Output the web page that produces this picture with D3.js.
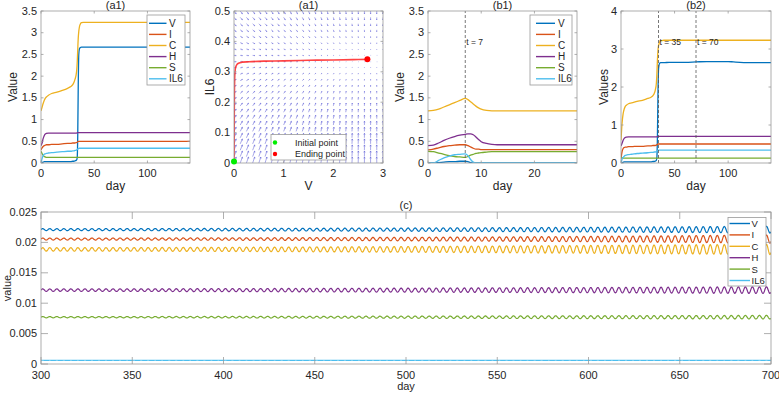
<!DOCTYPE html>
<html><head><meta charset="utf-8">
<script src="https://cdn.jsdelivr.net/npm/d3@7"></script>
<style>
body{margin:0;background:#fff}
text{font-family:"Liberation Sans",Arial,Helvetica,sans-serif;fill:#262626}
</style>
</head><body><svg id="chart" width="779" height="394"></svg>
<script>
// ---------- data ----------
const seriesNames = ["V","I","C","H","S","IL6"];
const seriesColors = ["#0072BD","#D95319","#EDB120","#7E2F8E","#77AC30","#4DBEEE"];

// (a1) time course, days 0..140
const tA = [0,1,2,3,4,5,7,10,15,20,25,28,30,31,32,33,33.5,34,34.5,35,35.5,36,37,38,40,45,60,70,80,100,105,120,140];
const a1V   = [0,0.01,0.02,0.03,0.03,0.03,0.03,0.03,0.03,0.03,0.03,0.03,0.04,0.04,0.05,0.06,0.07,0.12,0.6,1.8,2.5,2.62,2.66,2.67,2.67,2.67,2.67,2.67,2.67,2.67,2.67,2.67,2.67];
const a1I   = [0.3,0.35,0.38,0.4,0.41,0.42,0.42,0.43,0.43,0.44,0.45,0.45,0.46,0.46,0.46,0.47,0.47,0.48,0.49,0.5,0.5,0.5,0.5,0.5,0.5,0.5,0.5,0.5,0.5,0.5,0.5,0.5,0.5];
const a1C   = [1.2,1.28,1.37,1.44,1.49,1.52,1.56,1.6,1.63,1.67,1.72,1.76,1.81,1.86,1.93,2.03,2.12,2.3,2.6,2.88,3.03,3.12,3.2,3.23,3.24,3.24,3.24,3.24,3.24,3.24,3.24,3.24,3.24];
const a1H   = [0.4,0.46,0.56,0.63,0.67,0.68,0.69,0.69,0.69,0.69,0.69,0.69,0.69,0.69,0.69,0.69,0.69,0.7,0.7,0.7,0.7,0.7,0.7,0.7,0.7,0.7,0.7,0.7,0.7,0.7,0.7,0.7,0.7];
const a1S   = [0.27,0.22,0.18,0.15,0.14,0.13,0.13,0.13,0.13,0.13,0.13,0.13,0.13,0.13,0.13,0.13,0.13,0.13,0.13,0.13,0.13,0.13,0.13,0.13,0.13,0.13,0.13,0.13,0.13,0.13,0.13,0.13,0.13];
const a1IL6 = [0,0.1,0.17,0.2,0.21,0.22,0.23,0.24,0.25,0.26,0.27,0.27,0.28,0.28,0.29,0.29,0.3,0.31,0.32,0.33,0.335,0.34,0.34,0.34,0.34,0.34,0.34,0.34,0.34,0.34,0.34,0.34,0.34];

// (b2) time course, days 0..140
const b2V   = [0,0.01,0.02,0.03,0.03,0.03,0.03,0.03,0.03,0.03,0.03,0.03,0.04,0.04,0.05,0.07,0.15,0.7,1.8,2.45,2.58,2.62,2.64,2.64,2.64,2.65,2.65,2.66,2.67,2.67,2.66,2.64,2.64];
const b2I   = [0.1,0.3,0.38,0.41,0.42,0.42,0.43,0.43,0.44,0.44,0.45,0.45,0.46,0.46,0.46,0.47,0.48,0.49,0.5,0.5,0.5,0.5,0.5,0.5,0.5,0.5,0.5,0.5,0.5,0.5,0.5,0.5,0.5];
const b2C   = [0.6,1.05,1.3,1.42,1.49,1.52,1.56,1.58,1.62,1.65,1.7,1.73,1.78,1.83,1.92,2.1,2.35,2.7,2.95,3.08,3.14,3.18,3.21,3.22,3.23,3.23,3.23,3.23,3.23,3.23,3.23,3.23,3.23];
const b2H   = [0.45,0.52,0.6,0.65,0.67,0.68,0.69,0.69,0.69,0.69,0.69,0.69,0.69,0.69,0.69,0.69,0.69,0.7,0.7,0.7,0.7,0.7,0.7,0.7,0.7,0.7,0.7,0.7,0.7,0.7,0.7,0.7,0.7];
const b2S   = [0.15,0.14,0.13,0.13,0.13,0.13,0.13,0.13,0.13,0.13,0.13,0.13,0.13,0.13,0.13,0.13,0.13,0.13,0.13,0.13,0.13,0.13,0.13,0.13,0.13,0.13,0.13,0.13,0.13,0.13,0.13,0.13,0.13];
const b2IL6 = [0,0.1,0.15,0.18,0.2,0.21,0.22,0.23,0.25,0.26,0.27,0.28,0.28,0.29,0.29,0.3,0.31,0.32,0.33,0.335,0.34,0.34,0.34,0.34,0.34,0.34,0.34,0.34,0.34,0.34,0.34,0.34,0.34];

// (b1) time course, days 0..28
const tB = [0,1,2,3,4,5,6,7,7.5,8,8.5,9,9.5,10,11,12,13,14,16,20,24,28];
const b1V   = [0,0,0.01,0.02,0.03,0.03,0.04,0.04,0.03,0.01,0,0,0,0,0,0,0,0,0,0,0,0];
const b1I   = [0.3,0.32,0.35,0.38,0.4,0.41,0.42,0.42,0.4,0.37,0.34,0.32,0.32,0.31,0.31,0.31,0.31,0.31,0.31,0.31,0.31,0.31];
const b1C   = [1.2,1.21,1.24,1.29,1.34,1.39,1.44,1.49,1.46,1.41,1.36,1.31,1.27,1.24,1.21,1.2,1.2,1.2,1.2,1.2,1.2,1.2];
const b1H   = [0.4,0.41,0.46,0.52,0.57,0.61,0.64,0.66,0.67,0.67,0.65,0.6,0.54,0.49,0.45,0.43,0.42,0.42,0.42,0.42,0.42,0.42];
const b1S   = [0.27,0.26,0.23,0.2,0.17,0.15,0.14,0.13,0.15,0.18,0.2,0.22,0.23,0.24,0.25,0.26,0.26,0.26,0.26,0.26,0.26,0.26];
const b1IL6 = [0,0,0.06,0.12,0.16,0.19,0.2,0.21,0.17,0.08,0.02,0,0,0,0,0,0,0,0,0,0,0];

// phase portrait (V vs IL6)
const trajV   = [0,0.002,0.005,0.01,0.02,0.04,0.07,0.12,0.3,0.6,1,1.5,2,2.4,2.686];
const trajIL6 = [0.005,0.05,0.15,0.25,0.3,0.318,0.326,0.33,0.333,0.335,0.336,0.338,0.339,0.34,0.341];
const quiverV   = [0,0.125,0.25,0.375,0.5,0.625,0.75,0.875,1,1.125,1.25,1.375,1.5,1.625,1.75,1.875,2,2.125,2.25,2.375,2.5,2.625,2.75,2.875,3];
const quiverIL6 = [0,0.021,0.042,0.063,0.083,0.104,0.125,0.146,0.167,0.188,0.208,0.229,0.25,0.271,0.292,0.313,0.333,0.354,0.375,0.396,0.417,0.438,0.458,0.479,0.5];
const quiverDx  = [2.2,2.2,2.1,2.1,2.0,1.9,1.8,1.7,1.6,1.5,1.4,1.3,1.2,1.0,0.9,0.8,0.6,0.5,0.4,0.3,0.2,0.1,0,-0.1,-0.2];
const quiverDy  = [6.0,5.6,5.3,4.9,4.5,4.2,3.8,3.4,3.1,2.7,2.3,2.0,1.6,1.2,0.9,0.5,0.1,-0.2,-0.6,-1.0,-1.3,-1.7,-2.0,-2.4,-2.8];

// (c) long-term oscillation, days 300..700
const cDays  = [300,350,400,450,500,550,600,650,700];
const cMean  = [0.0221,0.02055,0.01885,0.01215,0.0077,0.0006];
const cAmpV   = [0.00016,0.00018,0.0002,0.00023,0.00027,0.00032,0.00039,0.00047,0.00056];
const cAmpI   = [0.00016,0.00018,0.0002,0.00024,0.00029,0.00035,0.00044,0.00055,0.00068];
const cAmpC   = [0.00028,0.0003,0.00034,0.0004,0.00047,0.00055,0.00064,0.00074,0.00084];
const cAmpH   = [0.0002,0.00022,0.00025,0.00029,0.00033,0.00038,0.00043,0.00049,0.00055];
const cAmpS   = [0.0001,0.00011,0.00013,0.00015,0.00018,0.00021,0.00024,0.00027,0.0003];
const cAmpIL6 = [0.00002,0.00002,0.00002,0.00002,0.00002,0.00002,0.00002,0.00002,0.00002];
const cPeriod = 3.85;

const ticksA = {x:[0,50,100], y:[0,0.5,1,1.5,2,2.5,3,3.5]};
const ticksB1 = {x:[0,10,20], y:[0,0.5,1,1.5,2,2.5,3,3.5]};
const ticksB2 = {x:[0,50,100], y:[0,1,2,3,4]};
const ticksP = {x:[0,1,2,3], y:[0,0.1,0.2,0.3,0.4,0.5]};
const ticksC = {x:[300,350,400,450,500,550,600,650,700], y:[0,0.005,0.01,0.015,0.02,0.025]};

// ---------- drawing ----------
const svg = d3.select("#chart");
const AX = "#9a9a9a";
let clipId = 0;

function panel(box, xDom, yDom, ticks, tickLen, opts) {
  const x = d3.scaleLinear().domain(xDom).range([box.x0, box.x1]);
  const y = d3.scaleLinear().domain(yDom).range([box.y1, box.y0]);
  const g = svg.append("g");
  const id = "clip" + (clipId++);
  g.append("clipPath").attr("id", id).append("rect")
    .attr("x", box.x0).attr("y", box.y0).attr("width", box.x1 - box.x0).attr("height", box.y1 - box.y0);
  const plot = g.append("g").attr("clip-path", `url(#${id})`);
  const frame = svg.append("g");
  const fs = opts.fs || 11;
  const xtY = opts.xtickY || 13.5;
  ticks.x.forEach(t => {
    frame.append("line").attr("x1", x(t)).attr("x2", x(t)).attr("y1", box.y1).attr("y2", box.y1 - tickLen).attr("stroke", AX).attr("stroke-width", 0.8);
    frame.append("line").attr("x1", x(t)).attr("x2", x(t)).attr("y1", box.y0).attr("y2", box.y0 + tickLen).attr("stroke", AX).attr("stroke-width", 0.8);
    frame.append("text").attr("x", x(t)).attr("y", box.y1 + xtY).attr("text-anchor", "middle").attr("font-size", fs).text(t);
  });
  ticks.y.forEach(t => {
    frame.append("line").attr("x1", box.x0).attr("x2", box.x0 + tickLen).attr("y1", y(t)).attr("y2", y(t)).attr("stroke", AX).attr("stroke-width", 0.8);
    frame.append("line").attr("x1", box.x1).attr("x2", box.x1 - tickLen).attr("y1", y(t)).attr("y2", y(t)).attr("stroke", AX).attr("stroke-width", 0.8);
    frame.append("text").attr("x", box.x0 - 4).attr("y", y(t) + 3.5).attr("text-anchor", "end").attr("font-size", fs).text(t);
  });
  frame.append("rect").attr("x", box.x0).attr("y", box.y0).attr("width", box.x1 - box.x0).attr("height", box.y1 - box.y0)
    .attr("fill", "none").attr("stroke", AX).attr("stroke-width", 0.8);
  frame.append("text").attr("x", (box.x0 + box.x1) / 2).attr("y", opts.titleY).attr("text-anchor", "middle").attr("font-size", fs).text(opts.title);
  frame.append("text").attr("x", (box.x0 + box.x1) / 2).attr("y", opts.xlabY).attr("text-anchor", "middle").attr("font-size", opts.labFs || fs + 1).text(opts.xlab);
  frame.append("text").attr("transform", `translate(${opts.ylabX},${(box.y0 + box.y1) / 2}) rotate(-90)`)
    .attr("text-anchor", "middle").attr("font-size", opts.labFs || fs + 1).text(opts.ylab);
  return {x, y, plot, frame};
}

function legend(box, lx1, lx2, tx, y0, step, fs) {
  const g = svg.append("g");
  g.append("rect").attr("x", box.x).attr("y", box.y).attr("width", box.w).attr("height", box.h)
    .attr("fill", "#fff").attr("stroke", AX).attr("stroke-width", 0.8);
  seriesNames.forEach((n, i) => {
    const yy = y0 + i * step;
    g.append("line").attr("x1", lx1).attr("x2", lx2).attr("y1", yy).attr("y2", yy)
      .attr("stroke", seriesColors[i]).attr("stroke-width", 1.4);
    g.append("text").attr("x", tx).attr("y", yy + 3.5).attr("font-size", fs).text(n);
  });
}

function drawSeries(P, t, arrays) {
  const line = d3.line().x(d => P.x(d[0])).y(d => P.y(d[1])).curve(d3.curveMonotoneX);
  arrays.forEach((arr, i) => {
    P.plot.append("path").datum(arr.map((v, k) => [t[k], v]))
      .attr("d", line).attr("fill", "none").attr("stroke", seriesColors[i]).attr("stroke-width", 1.3);
  });
}

function vline(P, xv, label) {
  const [y0, y1] = P.y.range();
  P.plot.append("line").attr("x1", P.x(xv)).attr("x2", P.x(xv)).attr("y1", y0).attr("y2", y1)
    .attr("stroke", "#555").attr("stroke-width", 0.8).attr("stroke-dasharray", "3,2");
  P.frame.append("text").attr("x", P.x(xv) + 1).attr("y", 45).attr("font-size", 8.5).text(label);
}

// (a1)
const PA = panel({x0:41, x1:190, y0:11, y1:163}, [0,140], [0,3.5], ticksA, 2.5,
  {title:"(a1)", titleY:8.5, xlab:"day", xlabY:189.5, ylab:"Value", ylabX:17});
drawSeries(PA, tA, [a1V, a1I, a1C, a1H, a1S, a1IL6]);
legend({x:147, y:15, w:38, h:70}, 149, 166.5, 169, 23.3, 11.1, 10);

// phase portrait
const PP = panel({x0:234, x1:383, y0:11, y1:163}, [0,3], [0,0.5], ticksP, 2.5,
  {title:"(a1)", titleY:8.5, xlab:"V", xlabY:189.5, ylab:"IL6", ylabX:214});
const qg = PP.plot.append("g").attr("stroke", "#6464d8").attr("stroke-opacity", 0.7).attr("stroke-width", 0.8).attr("fill", "none");
quiverIL6.forEach((iv, r) => {
  quiverV.forEach((vv, c) => {
    const x0 = PP.x(vv), y0 = PP.y(iv);
    const dx = quiverDx[c], dy = -quiverDy[r];
    const len = Math.hypot(dx, dy);
    if (len < 0.3) { qg.append("line").attr("x1", x0).attr("x2", x0 + 0.5).attr("y1", y0).attr("y2", y0); return; }
    const x1 = x0 + dx, y1 = y0 + dy;
    qg.append("line").attr("x1", x0).attr("y1", y0).attr("x2", x1).attr("y2", y1);
    const ang = Math.atan2(dy, dx), h = Math.min(1.6, len * 0.35);
    [0.45, -0.45].forEach(a => {
      qg.append("line").attr("x1", x1).attr("y1", y1)
        .attr("x2", x1 - h * Math.cos(ang + a)).attr("y2", y1 - h * Math.sin(ang + a));
    });
  });
});
PP.plot.append("path").datum(trajV.map((v, i) => [v, trajIL6[i]]))
  .attr("d", d3.line().x(d => PP.x(d[0])).y(d => PP.y(d[1])).curve(d3.curveCatmullRom.alpha(0.5)))
  .attr("fill", "none").attr("stroke", "#f22").attr("stroke-opacity", 0.85).attr("stroke-width", 1.6);
svg.append("circle").attr("cx", PP.x(trajV[0])).attr("cy", PP.y(trajIL6[0])).attr("r", 3).attr("fill", "#00ee00");
svg.append("circle").attr("cx", PP.x(trajV[trajV.length - 1])).attr("cy", PP.y(trajIL6[trajIL6.length - 1])).attr("r", 3).attr("fill", "#ff0000");
{
  const g = svg.append("g");
  g.append("rect").attr("x", 271).attr("y", 134.5).attr("width", 75).attr("height", 25.5)
    .attr("fill", "#fff").attr("stroke", AX).attr("stroke-width", 0.8);
  g.append("circle").attr("cx", 275).attr("cy", 142.5).attr("r", 2.2).attr("fill", "#00ee00");
  g.append("circle").attr("cx", 275).attr("cy", 154).attr("r", 2.2).attr("fill", "#ff0000");
  g.append("text").attr("x", 295).attr("y", 145.8).attr("font-size", 9).text("Initial point");
  g.append("text").attr("x", 295).attr("y", 157.3).attr("font-size", 9).text("Ending point");
}

// (b1)
const PB1 = panel({x0:428, x1:577, y0:11, y1:163}, [0,28], [0,3.5], ticksB1, 2.5,
  {title:"(b1)", titleY:8.5, xlab:"day", xlabY:189.5, ylab:"Value", ylabX:404});
drawSeries(PB1, tB, [b1V, b1I, b1C, b1H, b1S, b1IL6]);
vline(PB1, 7, "t = 7");
legend({x:530, y:15, w:42, h:70}, 536, 555, 558, 23.3, 11.1, 10);

// (b2)
const PB2 = panel({x0:621, x1:771, y0:11, y1:163}, [0,140], [0,4], ticksB2, 2.5,
  {title:"(b2)", titleY:8.5, xlab:"day", xlabY:189.5, ylab:"Values", ylabX:608});
drawSeries(PB2, tA, [b2V, b2I, b2C, b2H, b2S, b2IL6]);
vline(PB2, 35, "t = 35");
vline(PB2, 70, "t = 70");

// (c)
const PC = panel({x0:41, x1:771, y0:212, y1:364}, [300,700], [0,0.025], ticksC, 7,
  {title:"(c)", titleY:209, xlab:"day", xlabY:389.5, ylab:"value", ylabX:10.5, labFs:11, xtickY:14.5});
{
  const amps = [cAmpV, cAmpI, cAmpC, cAmpH, cAmpS, cAmpIL6];
  const line = d3.line().x(d => PC.x(d[0])).y(d => PC.y(d[1]));
  amps.forEach((ampArr, i) => {
    const ampAt = d3.scaleLinear().domain(cDays).range(ampArr);
    const pts = [];
    for (let d = 300; d <= 700.001; d += 0.2) {
      pts.push([d, cMean[i] + ampAt(d) * Math.sin(2 * Math.PI * (d - 300) / cPeriod)]);
    }
    PC.plot.append("path").datum(pts).attr("d", line).attr("fill", "none")
      .attr("stroke", seriesColors[i]).attr("stroke-width", 1.2);
  });
}
legend({x:728, y:217.5, w:38, h:68.5}, 729.5, 750, 751.5, 223.5, 11.4, 9.5);
</script>
</body></html>
